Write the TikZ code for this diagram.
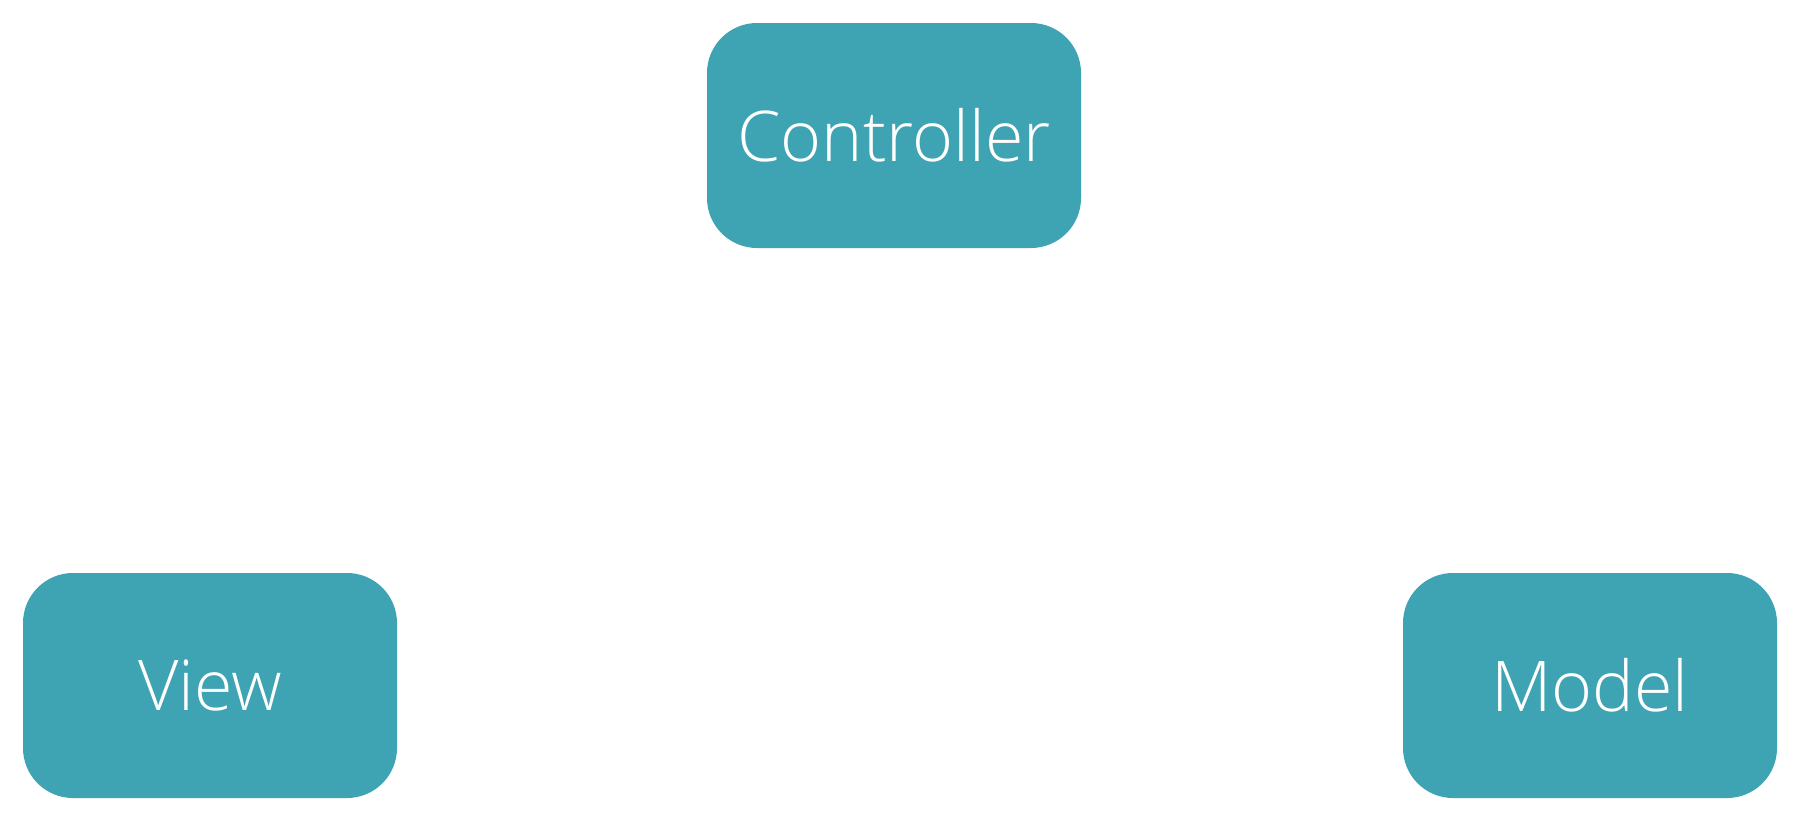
\documentclass[tikz,border=0pt]{standalone}
\usepackage{fontspec}
\setmainfont{Open Sans Light}
\definecolor{boxteal}{HTML}{3EA3B3}
\begin{document}
\begin{tikzpicture}[x=1pt,y=-1pt,
  mvcbox/.style={fill=boxteal,draw=none,rounded corners=50pt,
    minimum width=374pt,minimum height=225pt,inner sep=0pt,
    text=white,font=\fontsize{70}{76}\selectfont}]
  \useasboundingbox[fill=white] (0,0) rectangle (1800,822);
  \node[mvcbox] (controller) at (894,135.5) {Controller};
  \node[mvcbox] (view) at (210,685.5) {View};
  \node[mvcbox] (model) at (1590,685.5) {Model};
\end{tikzpicture}
\end{document}
